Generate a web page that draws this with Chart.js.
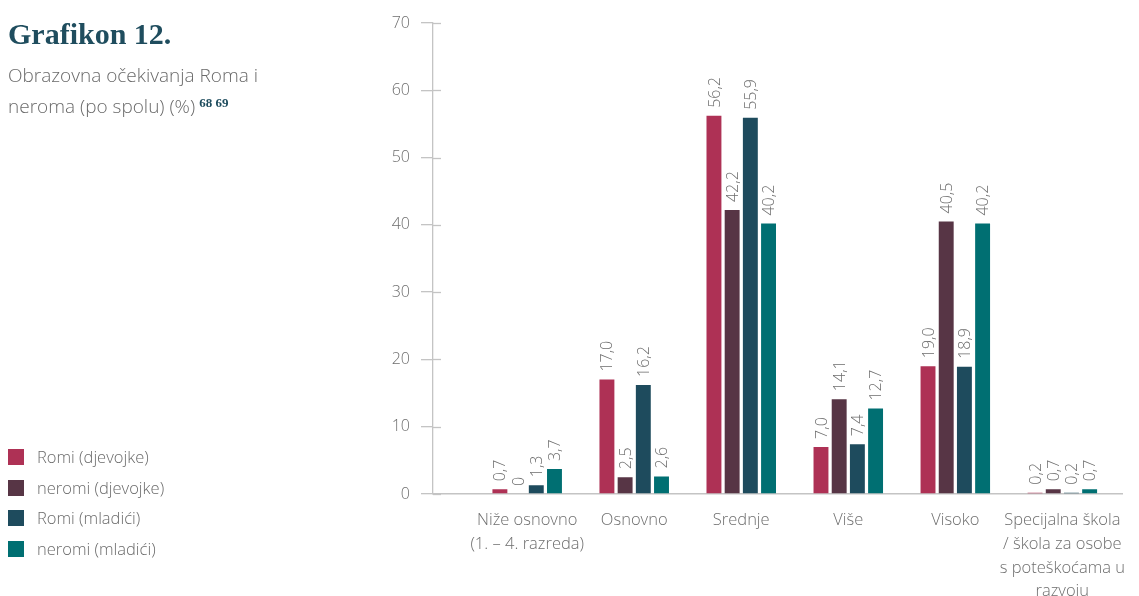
<!DOCTYPE html>
<html>
<head>
<meta charset="utf-8">
<script src="https://cdn.jsdelivr.net/npm/chart.js@4"></script>
<style>
  html, body { margin: 0; padding: 0; background: #fff; }
  #wrap { position: relative; width: 1139px; height: 596px; overflow: hidden; font-family: "Open Sans", sans-serif; }
  #chart { position: absolute; left: 0; top: 0; }
  .title { position: absolute; left: 8px; top: 17px; font-family: "Liberation Serif", serif; font-weight: bold; font-size: 30px; color: #1f4d5e; }
  .sub { position: absolute; left: 8px; top: 61px; font-size: 19px; font-weight: 300; color: #6a6a6a; line-height: 28px; width: 300px; }
  .sub sup { font-family: "Liberation Serif", serif; font-weight: bold; font-size: 13px; color: #1f4d5e; vertical-align: 6px; margin-left: 4px; }
  .legend { position: absolute; left: 8px; top: 447px; }
  .legend div { height: 30.5px; display: flex; align-items: flex-start; font-size: 16.5px; font-weight: 300; color: #6a6a6a; }
  .legend span.sw { width: 16px; height: 16px; margin-right: 13px; margin-top: 2px; }
  .legend span.tx { line-height: 20px; }
</style>
</head>
<body>
<div id="wrap">
  <canvas id="chart" width="1139" height="596"></canvas>
  <div class="title">Grafikon 12.</div>
  <div class="sub">Obrazovna očekivanja Roma i neroma (po spolu) (%)<sup>68 69</sup></div>
  <div class="legend" id="legend"></div>
</div>
<script>
// categories (x axis)
var categories = [
  ['Niže osnovno', '(1. – 4. razreda)'],
  ['Osnovno'],
  ['Srednje'],
  ['Više'],
  ['Visoko'],
  ['Specijalna škola', '/ škola za osobe', 's poteškoćama u', 'razvoju']
];
var seriesNames = ['Romi (djevojke)', 'neromi (djevojke)', 'Romi (mladići)', 'neromi (mladići)'];
var seriesColors = ['#ae3155', '#573545', '#1e4b5d', '#006f72'];

var romiDjevojke   = [0.7, 17.0, 56.2, 7.0, 19.0, 0.2];
var neromiDjevojke = [0, 2.5, 42.2, 14.1, 40.5, 0.7];
var romiMladici    = [1.3, 16.2, 55.9, 7.4, 18.9, 0.2];
var neromiMladici  = [3.7, 2.6, 40.2, 12.7, 40.2, 0.7];

var yTicks = [0, 10, 20, 30, 40, 50, 60, 70];

var seriesValues = [romiDjevojke, neromiDjevojke, romiMladici, neromiMladici];
var axisGray = '#c4c4c4';
var textGray = '#6e6e6e';

// html legend
var leg = document.getElementById('legend');
seriesNames.forEach(function(n, i) {
  var d = document.createElement('div');
  d.innerHTML = '<span class="sw" style="background:' + seriesColors[i] + '"></span><span class="tx">' + n + '</span>';
  leg.appendChild(d);
});

function fmt(v) {
  if (v === 0) return '0';
  return v.toFixed(1).replace('.', ',');
}

// value labels above bars, rotated
var valueLabels = {
  id: 'valueLabels',
  afterDatasetsDraw: function(chart) {
    var ctx = chart.ctx;
    ctx.save();
    ctx.font = '300 16px "Open Sans"';
    ctx.fillStyle = textGray;
    ctx.textAlign = 'left';
    ctx.textBaseline = 'middle';
    chart.data.datasets.forEach(function(ds, di) {
      var meta = chart.getDatasetMeta(di);
      meta.data.forEach(function(bar, i) {
        ctx.save();
        ctx.translate(bar.x, bar.y - 8);
        ctx.rotate(-Math.PI / 2);
        ctx.fillText(fmt(seriesValues[di][i]), 0, 1);
        ctx.restore();
      });
    });
    ctx.restore();
  }
};

// y ticks cross the axis line a bit
var innerTicks = {
  id: 'innerTicks',
  afterDraw: function(chart) {
    var y = chart.scales.y;
    var ctx = chart.ctx;
    ctx.save();
    ctx.strokeStyle = axisGray;
    ctx.lineWidth = 1.3;
    yTicks.forEach(function(t) {
      var py = Math.round(y.getPixelForValue(t)) + 0.5;
      ctx.beginPath();
      ctx.moveTo(chart.chartArea.left, py);
      ctx.lineTo(chart.chartArea.left + 8, py);
      ctx.stroke();
    });
    ctx.restore();
  }
};

var datasets = seriesNames.map(function(n, i) {
  return {
    label: n,
    data: seriesValues[i].map(function(v, k) { return { x: k, y: v }; }),
    backgroundColor: seriesColors[i],
    borderWidth: 0,
    categoryPercentage: 0.68,
    barPercentage: 0.82
  };
});

new Chart(document.getElementById('chart'), {
  type: 'bar',
  data: { datasets: datasets },
  options: {
    responsive: false,
    animation: false,
    layout: { padding: { top: 23, left: 0, right: 0, bottom: 0 } },
    plugins: { legend: { display: false }, tooltip: { enabled: false } },
    scales: {
      x: {
        type: 'linear',
        offset: false,
        min: -0.88,
        max: 5.56,
        afterFit: function(s) { s.height = 102; },
        grid: { display: false, drawTicks: false },
        border: { display: true, color: axisGray, width: 1.5 },
        ticks: {
          stepSize: 1,
          includeBounds: false,
          autoSkip: false,
          maxRotation: 0,
          padding: 14,
          color: textGray,
          font: { family: 'Open Sans', size: 16.5, weight: '300', lineHeight: 1.45 },
          callback: function(v) {
            if (Number.isInteger(v) && v >= 0 && v < categories.length) return categories[v];
            return null;
          }
        }
      },
      y: {
        min: 0,
        max: 70,
        afterFit: function(s) { s.width = 433; },
        afterBuildTicks: function(s) { s.ticks = yTicks.map(function(v) { return { value: v }; }); },
        grid: { drawOnChartArea: false, drawTicks: true, tickLength: 12, color: axisGray, lineWidth: 1.3 },
        border: { display: true, color: axisGray, width: 1.3 },
        ticks: {
          padding: 11,
          color: textGray,
          font: { family: 'Open Sans', size: 16, weight: '300' }
        }
      }
    }
  },
  plugins: [valueLabels, innerTicks]
});
</script>
</body>
</html>
